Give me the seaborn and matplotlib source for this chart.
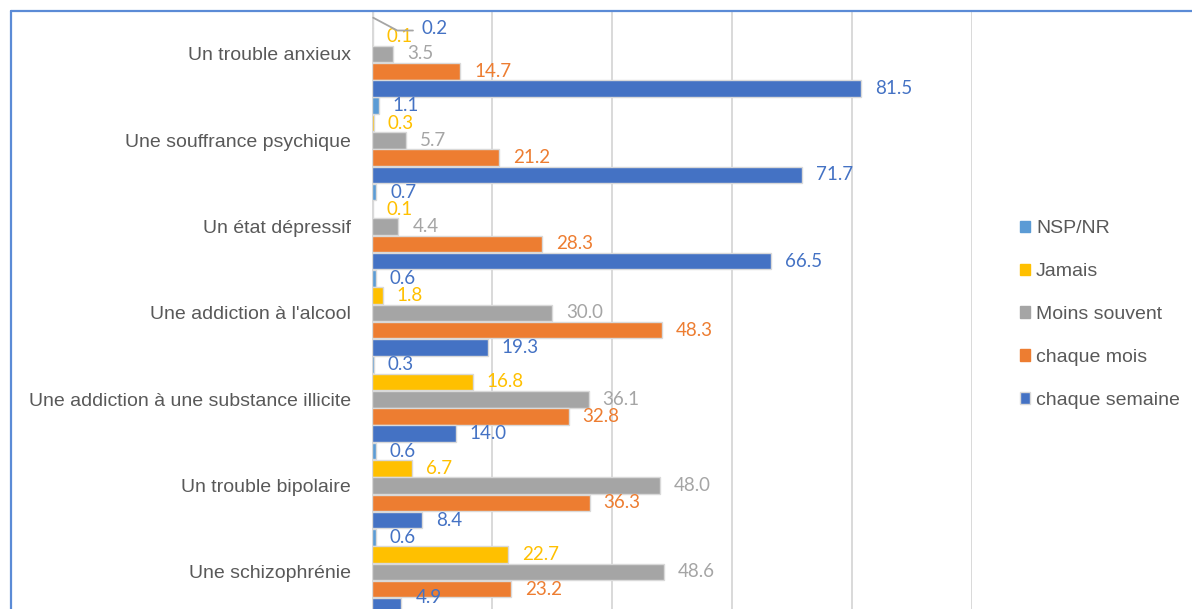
import matplotlib
matplotlib.use("Agg")
import matplotlib.pyplot as plt
from matplotlib import font_manager
from matplotlib.lines import Line2D
from matplotlib.patches import Patch
import seaborn as sns
import pandas as pd

categories = [
    "Un trouble anxieux",
    "Une souffrance psychique",
    "Un état dépressif",
    "Une addiction à l'alcool",
    "Une addiction à une substance illicite",
    "Un trouble bipolaire",
    "Une schizophrénie",
]
series = ["NSP/NR", "Jamais", "Moins souvent", "chaque mois", "chaque semaine"]
nsp = [0.2, 1.1, 0.7, 0.6, 0.3, 0.6, 0.6]
jamais = [0.1, 0.3, 0.1, 1.8, 16.8, 6.7, 22.7]
moins_souvent = [3.5, 5.7, 4.4, 30.0, 36.1, 48.0, 48.6]
chaque_mois = [14.7, 21.2, 28.3, 48.3, 32.8, 36.3, 23.2]
chaque_semaine = [81.5, 71.7, 66.5, 19.3, 14.0, 8.4, 4.9]

bar_colors = ["#5B9BD5", "#FFC000", "#A5A5A5", "#ED7D31", "#4472C4"]
label_colors = ["#4472C4", "#FFC000", "#A5A5A5", "#ED7D31", "#4472C4"]

values = [nsp, jamais, moins_souvent, chaque_mois, chaque_semaine]
rows = []
for s, vals in zip(series, values):
    for c, v in zip(categories, vals):
        rows.append({"cat": c, "serie": s, "val": v})
df = pd.DataFrame(rows)

sns.set_style("white")


def have(name):
    try:
        font_manager.findfont(font_manager.FontProperties(family=name), fallback_to_default=False)
        return True
    except Exception:
        return False


if have("Liberation Sans Narrow"):
    cat_font, cat_size = "Liberation Sans Narrow", 15.5
else:
    cat_font, cat_size = "Liberation Sans", 14
num_font = "Lato" if have("Lato") else "DejaVu Sans"
plt.rcParams["font.family"] = [cat_font, "DejaVu Sans"]

W, H = 1192, 609
fig = plt.figure(figsize=(W / 100, H / 100), dpi=100)
top_px = 10.8
ax = fig.add_axes([372 / W, 0, 600 / W, (H - top_px) / H])

sns.barplot(data=df, y="cat", x="val", hue="serie", hue_order=series,
            order=categories, palette=bar_colors, saturation=1, orient="h",
            width=1.0, gap=0.04, edgecolor="#D9D9D9", linewidth=1, ax=ax,
            legend=False, errorbar=None)

ax.set_xlim(0, 100)
ax.set_ylim(6.43, -0.5)
ax.set_xticks([0, 20, 40, 60, 80, 100])
ax.xaxis.grid(True, color="#D9D9D9", linewidth=1.4)
ax.yaxis.grid(False)
ax.set_axisbelow(True)
ax.tick_params(axis="x", length=0, labelbottom=False)
ax.tick_params(axis="y", length=0, pad=15, labelsize=cat_size, labelcolor="#595959")
for lbl in ax.get_yticklabels():
    lbl.set_family([cat_font, "DejaVu Sans"])
for sp in ax.spines.values():
    sp.set_visible(False)
ax.set_xlabel("")
ax.set_ylabel("")

for i, cont in enumerate(ax.containers):
    vals = values[i]
    labels = ["%.1f" % v for v in vals]
    if i == 0:
        labels[0] = ""
    texts = ax.bar_label(cont, labels=labels, padding=10, color=label_colors[i],
                         fontsize=13.5, family=num_font)
    if i == 4:
        # last label sits near the cropped bottom edge: nudge it up like the reference
        texts[-1].set_va("bottom")

# leader-line label for the first NSP/NR value
b0 = ax.containers[0][0]
yc = b0.get_y() + b0.get_height() / 2
ax.annotate("%.1f" % nsp[0], xy=(b0.get_width(), yc - 0.02),
            xytext=(35, -8), textcoords="offset points",
            ha="left", va="center", color=label_colors[0], fontsize=13.5,
            family=num_font,
            arrowprops=dict(arrowstyle="-", color="#A5A5A5", lw=1.3,
                            shrinkA=4, shrinkB=0, relpos=(0, 0.4),
                            connectionstyle="angle,angleA=180,angleB=-28,rad=0"))

# legend
handles = [Patch(facecolor=c, edgecolor=("#D9D9D9" if k == 4 else c), linewidth=1)
           for k, c in enumerate(bar_colors)]
leg = fig.legend(handles, series, loc="upper left",
                 bbox_to_anchor=(1002 / W, 1 - 203 / H), frameon=False,
                 prop={"family": [cat_font, "DejaVu Sans"], "size": cat_size},
                 labelcolor="#595959", handlelength=0.55, handleheight=0.55,
                 handletextpad=0.3, labelspacing=1.33)

# chart frame border (left and top)
fig.add_artist(Line2D([10.5 / W, 10.5 / W], [0, 1 - 10.5 / H],
                      color="#5B8BD6", lw=1.6, transform=fig.transFigure))
fig.add_artist(Line2D([10.5 / W, 1], [1 - 10.5 / H, 1 - 10.5 / H],
                      color="#5B8BD6", lw=1.6, transform=fig.transFigure))

fig.savefig("out.png", dpi=100)
